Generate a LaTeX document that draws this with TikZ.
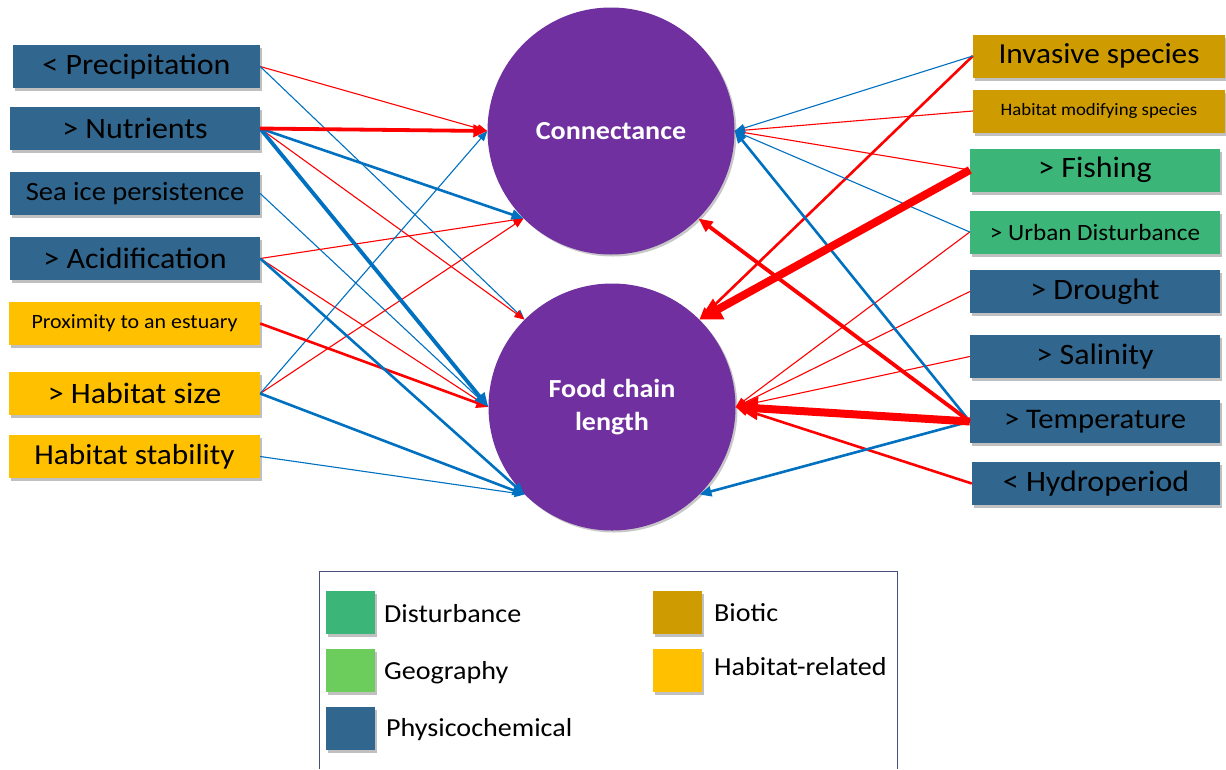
\documentclass[tikz,border=0pt]{standalone}
\usepackage{fontspec}
\setmainfont{Carlito}[FakeStretch=1.08]
\usetikzlibrary{arrows.meta,shadows}
\definecolor{phys}{RGB}{49,102,142}
\definecolor{hab}{RGB}{255,192,0}
\definecolor{bio}{RGB}{206,156,0}
\definecolor{dist}{RGB}{59,182,120}
\definecolor{geo}{RGB}{108,204,92}
\definecolor{purp}{RGB}{112,48,160}
\definecolor{ared}{RGB}{255,0,0}
\definecolor{ablue}{RGB}{0,112,192}
\definecolor{lframe}{RGB}{70,80,120}
\tikzset{
  shad/.style={drop shadow={shadow xshift=2pt,shadow yshift=-3pt,opacity=0.35,fill=black!70}},
  box/.style={shad,minimum width=250pt,minimum height=43pt,inner sep=0pt,text=black},
  physbox/.style={box,fill=phys},
  habbox/.style={box,fill=hab},
  biobox/.style={box,fill=bio,minimum width=252pt},
  distbox/.style={box,fill=dist},
  hub/.style={circle,fill=purp,minimum size=247pt,inner sep=0pt,text=white,align=center,
    font=\bfseries\fontsize{26}{33}\selectfont,drop shadow={shadow xshift=2pt,shadow yshift=-2pt,opacity=0.3,fill=black!70}},
  fbig/.style={font=\fontsize{29.6}{33}\selectfont},
  sq/.style={shad,minimum width=49pt,minimum height=43pt,inner sep=0pt},
  ltxt/.style={anchor=base west,inner sep=0pt,font=\fontsize{26}{30}\selectfont},
  rthin/.style={draw=ared,line width=1.1pt,-{Triangle[length=10pt,width=8pt]}},
  bthin/.style={draw=ablue,line width=1.1pt,-{Triangle[length=10pt,width=8pt]}},
  rmed/.style={draw=ared,line width=2.6pt,-{Triangle[length=12pt,width=10pt]}},
  bmed/.style={draw=ablue,line width=2.6pt,-{Triangle[length=12pt,width=10pt]}},
  rthick/.style={draw=ared,line width=3.8pt,-{Triangle[length=14pt,width=12pt]}},
  bthick/.style={draw=ablue,line width=3.8pt,-{Triangle[length=14pt,width=12pt]}},
  rhuge/.style={draw=ared,line width=8pt,-{Triangle[length=22pt,width=22pt]}},
}
\begin{document}
\begin{tikzpicture}[x=1pt,y=-1pt]
\useasboundingbox[fill=white] (0,0) rectangle (1226,769);

% hubs
\node[hub] (C) at (611,131) {Connectance};
\node[hub] (F) at (612,407) {Food chain\\length};

% left boxes
\node[physbox,fbig,minimum width=247pt] (prec) at (136.5,66.5) {< Precipitation};
\node[physbox,fbig] (nutr) at (135,128.5) {> Nutrients};
\node[physbox,font=\fontsize{26.4}{30}\selectfont] (seaice) at (135,193.5) {Sea ice persistence};
\node[physbox,fbig] (acid) at (135,258.5) {> Acidification};
\node[habbox,font=\fontsize{20.3}{23}\selectfont,minimum width=251pt] (prox) at (134.5,323.5) {Proximity to an estuary};
\node[habbox,fbig,minimum width=251pt] (hsize) at (134.5,393.5) {> Habitat size};
\node[habbox,font=\fontsize{29}{33}\selectfont,minimum width=251pt] (hstab) at (134.5,456.5) {Habitat stability};

% right boxes
\node[biobox,font=\fontsize{29}{33}\selectfont] (inv) at (1099,56) {Invasive species};
\node[biobox,font=\fontsize{17.4}{20}\selectfont] (hmod) at (1099,111) {Habitat modifying species};
\node[distbox,fbig] (fish) at (1095,170) {> Fishing};
\node[distbox,font=\fontsize{23.3}{27}\selectfont] (urban) at (1095,232) {> Urban Disturbance};
\node[physbox,fbig] (drought) at (1095,291.5) {> Drought};
\node[physbox,fbig] (sal) at (1095,356.5) {> Salinity};
\node[physbox,font=\fontsize{28.4}{32}\selectfont] (temp) at (1095,421.5) {> Temperature};
\node[physbox,fbig,minimum width=248pt] (hydro) at (1096,483.5) {< Hydroperiod};

% left connectors
\draw[rthin] (prec.east) -- (C.180);
\draw[bthin] (prec.east) -- (F.135);
\draw[rthin] (nutr.east) -- (F.135);
\draw[bthin] (seaice.east) -- (F.180);
\draw[rthin] (acid.east) -- (C.225);
\draw[rthin] (acid.east) -- (F.180);
\draw[rthin] (hsize.east) -- (C.225);
\draw[bthin] (hsize.east) -- (C.180);
\draw[bthin] (hstab.east) -- (F.225);
\draw[rmed] (prox.east) -- (F.180);
\draw[bmed] (acid.east) -- (F.225);
\draw[bmed] (hsize.east) -- (F.225);
\draw[bmed] (nutr.east) -- (C.225);
\draw[bthick] (nutr.east) -- (F.180);
\draw[rthick] (nutr.east) -- (C.180);

% right connectors
\draw[rthin] (hmod.west) -- (C.0);
\draw[rthin] (fish.west) -- (C.0);
\draw[rthin] (urban.west) -- (F.0);
\draw[rthin] (drought.west) -- (F.0);
\draw[rthin] (sal.west) -- (F.0);
\draw[rmed] (hydro.west) -- (F.0);
\draw[rmed] (inv.west) -- (F.45);
\draw[bthin] (inv.west) -- (C.0);
\draw[bthin] (urban.west) -- (C.0);
\draw[bmed] (temp.west) -- (C.0);
\draw[rthick] (temp.west) -- (C.-45);
\draw[bmed] (temp.west) -- (F.-45);
\draw[rhuge] (fish.west) -- (F.45);
\draw[rhuge] (temp.west) -- (F.0);

% legend
\draw[lframe,line width=1pt] (319,769) -- (319,571) -- (897,571) -- (897,769);
\node[sq,fill=dist] (ldist) at (350.5,612) {};
\node[sq,fill=geo] (lgeo) at (350.5,670.5) {};
\node[sq,fill=phys] (lphys) at (350.5,728) {};
\node[sq,fill=bio] (lbio) at (677,612) {};
\node[sq,fill=hab] (lhab) at (677,670.5) {};
\node[ltxt] (tdist) at (384,622) {Disturbance};
\node[ltxt] (tgeo) at (384,679) {Geography};
\node[ltxt] (tphys) at (386,736) {Physicochemical};
\node[ltxt] (tbio) at (714,621) {Biotic};
\node[ltxt] (thab) at (714,675) {Habitat-related};
\end{tikzpicture}
\end{document}
